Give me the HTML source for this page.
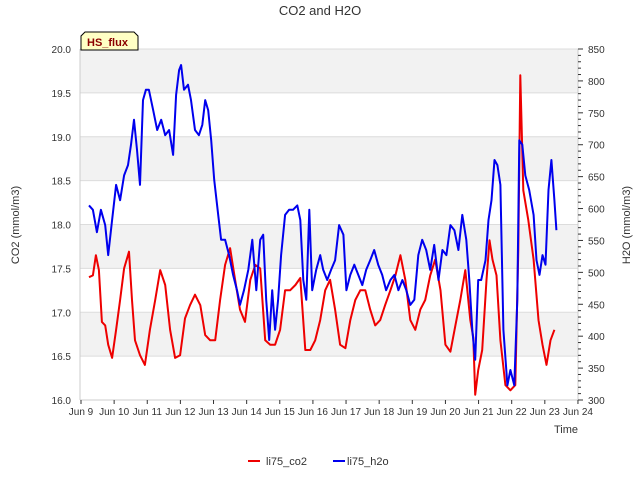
<!DOCTYPE html>
<html><head><meta charset="utf-8"><style>
body{margin:0;background:#fff;}
svg{display:block;font-family:"Liberation Sans","DejaVu Sans",sans-serif;}
</style></head><body>
<svg id="chart" width="640" height="480" xmlns="http://www.w3.org/2000/svg">
<text x="320" y="15" text-anchor="middle" font-size="13" fill="#333">CO2 and H2O</text>
<g id="bands"></g><g id="grid"></g>
<g id="series"></g>
<g id="axes"></g>
<text x="19" y="225" transform="rotate(-90 19 225)" text-anchor="middle" font-size="11" fill="#333">CO2 (mmol/m3)</text>
<text x="630" y="225" transform="rotate(-90 630 225)" text-anchor="middle" font-size="11" fill="#333">H2O (mmol/m3)</text>
<text x="578" y="433" text-anchor="end" font-size="11" fill="#333">Time</text>
<g>
<path d="M81,50 L81,36 L85,32 L134,32 L138,36 L138,50 Z" fill="#ffffc4" stroke="#000" stroke-width="1"/>
<text x="87" y="46" font-size="11" font-weight="bold" fill="#8b0000">HS_flux</text>
</g>
<g>
<line x1="248" y1="461" x2="260" y2="461" stroke="#e00" stroke-width="2"/>
<text x="266" y="465" font-size="11" fill="#333">li75_co2</text>
<line x1="333" y1="461" x2="345" y2="461" stroke="#00e" stroke-width="2"/>
<text x="347" y="465" font-size="11" fill="#333">li75_h2o</text>
</g>
</svg>
<script>
const xTickLabels=["Jun 9","Jun 10","Jun 11","Jun 12","Jun 13","Jun 14","Jun 15","Jun 16","Jun 17","Jun 18","Jun 19","Jun 20","Jun 21","Jun 22","Jun 23","Jun 24"];
const leftTicks=[16.0,16.5,17.0,17.5,18.0,18.5,19.0,19.5,20.0];
const rightTicks=[300,350,400,450,500,550,600,650,700,750,800,850];
const co2Days=[0.24,0.36,0.45,0.54,0.63,0.73,0.82,0.94,1.06,1.18,1.30,1.45,1.54,1.63,1.78,1.93,2.08,2.24,2.39,2.54,2.69,2.84,2.99,3.14,3.29,3.44,3.60,3.75,3.90,4.05,4.20,4.35,4.50,4.65,4.80,4.95,5.11,5.26,5.41,5.56,5.71,5.86,6.01,6.16,6.31,6.47,6.62,6.77,6.92,7.07,7.22,7.37,7.52,7.67,7.82,7.98,8.13,8.28,8.43,8.58,8.73,8.88,9.03,9.18,9.34,9.49,9.64,9.79,9.94,10.09,10.24,10.39,10.54,10.69,10.85,11.00,11.15,11.30,11.45,11.60,11.75,11.84,11.90,11.99,12.11,12.24,12.33,12.42,12.54,12.66,12.81,12.96,13.11,13.20,13.26,13.35,13.50,13.66,13.81,13.93,14.05,14.17,14.29];
const co2Values=[17.40,17.42,17.65,17.48,16.89,16.85,16.63,16.48,16.80,17.14,17.50,17.69,17.14,16.68,16.51,16.40,16.80,17.14,17.48,17.31,16.80,16.48,16.51,16.93,17.08,17.20,17.08,16.74,16.68,16.68,17.14,17.54,17.73,17.37,17.03,16.89,17.37,17.54,17.50,16.68,16.63,16.63,16.80,17.25,17.25,17.31,17.39,16.57,16.57,16.68,16.91,17.25,17.37,17.03,16.63,16.59,16.91,17.14,17.25,17.25,17.03,16.85,16.91,17.08,17.25,17.42,17.65,17.37,16.91,16.80,17.03,17.14,17.42,17.60,17.25,16.63,16.55,16.85,17.14,17.48,16.91,16.71,16.06,16.34,16.57,17.37,17.82,17.60,17.42,16.68,16.17,16.11,16.17,17.71,19.70,18.39,18.05,17.60,16.91,16.63,16.40,16.68,16.80];
const h2oDays=[0.24,0.36,0.48,0.60,0.73,0.82,0.94,1.06,1.18,1.30,1.42,1.51,1.60,1.69,1.78,1.87,1.96,2.05,2.18,2.30,2.42,2.54,2.66,2.78,2.87,2.96,3.02,3.11,3.23,3.32,3.44,3.56,3.66,3.75,3.84,3.93,4.02,4.14,4.23,4.35,4.47,4.59,4.71,4.80,4.92,5.05,5.17,5.29,5.41,5.50,5.59,5.68,5.77,5.86,5.95,6.04,6.16,6.28,6.40,6.53,6.62,6.71,6.80,6.89,6.98,7.10,7.22,7.31,7.43,7.55,7.67,7.79,7.92,8.01,8.13,8.25,8.37,8.49,8.61,8.73,8.85,8.97,9.09,9.21,9.34,9.46,9.58,9.70,9.82,9.94,10.06,10.18,10.30,10.42,10.54,10.66,10.79,10.91,11.03,11.15,11.27,11.39,11.51,11.63,11.72,11.81,11.90,11.99,12.08,12.21,12.30,12.39,12.48,12.57,12.66,12.75,12.87,12.96,13.08,13.17,13.23,13.32,13.41,13.53,13.66,13.75,13.84,13.93,14.02,14.11,14.20,14.29,14.35];
const h2oValues=[605,598,563,598,574,527,582,637,613,652,668,700,739,692,637,770,786,786,754,723,739,715,723,684,778,817,825,786,794,770,723,715,731,770,754,707,645,590,551,551,527,496,472,449,472,504,551,472,551,559,457,394,472,410,457,527,590,598,598,605,582,488,457,598,472,504,527,504,488,504,519,574,559,472,496,512,496,480,504,519,535,512,496,472,488,496,472,488,472,449,457,527,551,535,504,543,488,535,527,574,566,535,590,551,488,410,363,488,488,519,582,613,676,668,637,410,323,347,323,457,707,700,652,629,590,519,496,527,512,629,676,613,566];

const NS="http://www.w3.org/2000/svg";
const L=80,R=578,T=49,B=400;
const xDay=d=>81+d*33.13;
const yL=v=>B-(v-16)/4*(B-T);
const yR=v=>B-(v-300)/550*(B-T);
function mk(tag,attrs,parent){const e=document.createElementNS(NS,tag);for(const k in attrs)e.setAttribute(k,attrs[k]);parent.appendChild(e);return e;}
const bands=document.getElementById('bands'),grid=document.getElementById('grid'),axes=document.getElementById('axes'),series=document.getElementById('series');
mk('rect',{x:L,y:T,width:R-L,height:B-T,fill:'#fff'},bands);
for(let i=0;i<leftTicks.length-1;i++){if(i%2===1){const r=mk('rect',{x:L,y:yL(leftTicks[i+1]),width:R-L,height:yL(leftTicks[i])-yL(leftTicks[i+1]),fill:'#f2f2f2'},bands);

}}
leftTicks.forEach(v=>{const y=yL(v);
const g=mk('line',{x1:L,x2:R,y1:y,y2:y,stroke:'#dcdcdc','stroke-width':1},grid);


const t=mk('text',{x:L-9,y:y+4,'text-anchor':'end','font-size':10,fill:'#333'},axes);t.textContent=v.toFixed(1);

});
mk('line',{x1:L,x2:L,y1:T,y2:B,stroke:'#ccc'},axes);
mk('line',{x1:R,x2:R,y1:T,y2:B,stroke:'#ccc'},axes);
mk('line',{x1:L,x2:R,y1:B,y2:B,stroke:'#ccc'},axes);
for(let v=300;v<=850;v+=10){const y=yR(v);mk('line',{x1:R,x2:R+(v%50===0?5:3),y1:y,y2:y,stroke:'#333'},axes);}
rightTicks.forEach(v=>{const t=mk('text',{x:R+10,y:yR(v)+4,'font-size':10,fill:'#333'},axes);t.textContent=v;

});
xTickLabels.forEach((s,i)=>{const x=xDay(i);mk('line',{x1:x,x2:x,y1:B,y2:B+4,stroke:'#333'},axes);
const t=mk('text',{x:x,y:B+15,'text-anchor':'middle','font-size':10,fill:'#333'},axes);t.textContent=s;

});
function line(days,vals,ys,color,name){const p=mk('polyline',{points:days.map((d,i)=>xDay(d).toFixed(1)+','+ys(vals[i]).toFixed(1)).join(' '),fill:'none',stroke:color,'stroke-width':2,'stroke-linejoin':'round'},series);

}
line(co2Days,co2Values,yL,'#ee0000','co2-line');
line(h2oDays,h2oValues,yR,'#0000ee','h2o-line');
</script>
</body></html>
